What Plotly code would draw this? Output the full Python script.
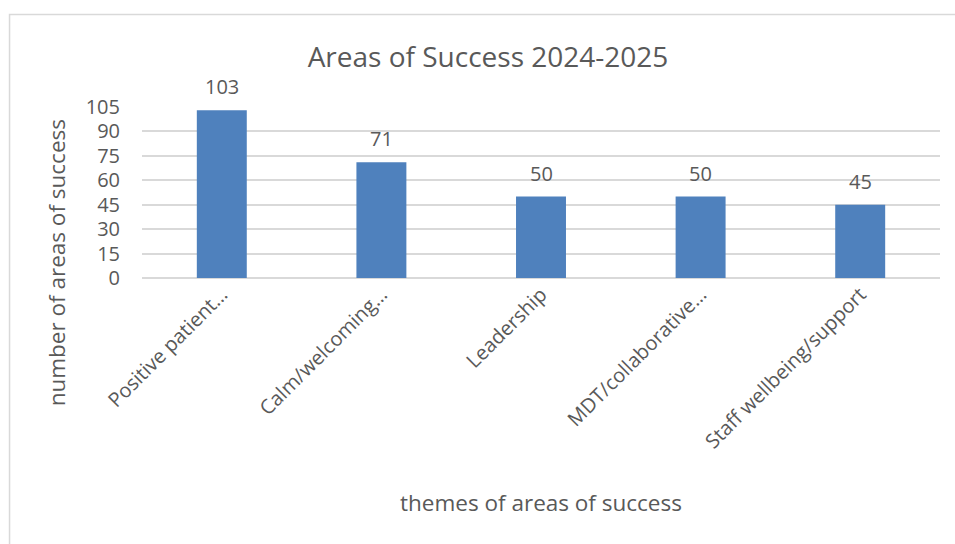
import plotly.graph_objects as go

categories = ["Positive patient…", "Calm/welcoming…", "Leadership", "MDT/collaborative…", "Staff wellbeing/support"]
values = [103, 71, 50, 50, 45]
y_ticks = [0, 15, 30, 45, 60, 75, 90, 105]

FONT = "Open Sans"
GREY = "#595959"

fig = go.Figure()
fig.add_trace(go.Bar(
    x=categories, y=values,
    marker=dict(color="#4F81BD", line=dict(width=0)),
    width=0.313,
    hoverinfo="x+y",
))

for c, v in zip(categories, values):
    fig.add_annotation(x=c, y=v, text=str(v), showarrow=False,
                       yanchor="bottom", yshift=8,
                       font=dict(family=FONT, size=20, color=GREY))

# y-axis title placed like the reference
fig.add_annotation(xref="paper", yref="paper", x=-0.106, y=0.088, text="number of areas of success",
                   textangle=-90, showarrow=False, xanchor="center", yanchor="middle",
                   font=dict(family=FONT, size=22.5, color=GREY))

# x-axis title
fig.add_annotation(xref="paper", yref="paper", x=0.5, y=-1.31, text="themes of areas of success",
                   showarrow=False, xanchor="center", yanchor="middle",
                   font=dict(family=FONT, size=22.5, color=GREY))

# chart frame
fig.add_shape(type="rect", xref="paper", yref="paper",
              x0=-0.1660, x1=1.1, y0=-2.0, y1=1.541,
              line=dict(color="#D9D9D9", width=1.5), fillcolor="rgba(0,0,0,0)", layer="below")

fig.update_layout(
    width=955, height=544,
    margin=dict(l=142, r=15, t=107, b=266),
    paper_bgcolor="white", plot_bgcolor="white",
    showlegend=False,
    bargap=0.687,
    title=dict(text="Areas of Success 2024-2025", x=488 / 955, xref="container", xanchor="center",
               y=1 - 57 / 544, yanchor="middle",
               font=dict(family=FONT, size=28, color=GREY)),
    font=dict(family=FONT, color=GREY),
    xaxis=dict(
        tickangle=-45, tickfont=dict(family=FONT, size=20, color=GREY),
        showline=False, showgrid=False, ticks="",
        automargin=False,
    ),
    yaxis=dict(
        range=[0, 105], tickvals=y_ticks, ticktext=[str(t) for t in y_ticks],
        tickfont=dict(family=FONT, size=20, color=GREY),
        showgrid=True, gridcolor="#D9D9D9", gridwidth=1.5,
        zeroline=True, zerolinecolor="#D9D9D9", zerolinewidth=1.5,
        showline=False, ticks="", automargin=False, ticklabelstandoff=21,
    ),
)

fig.write_html("out.html")
